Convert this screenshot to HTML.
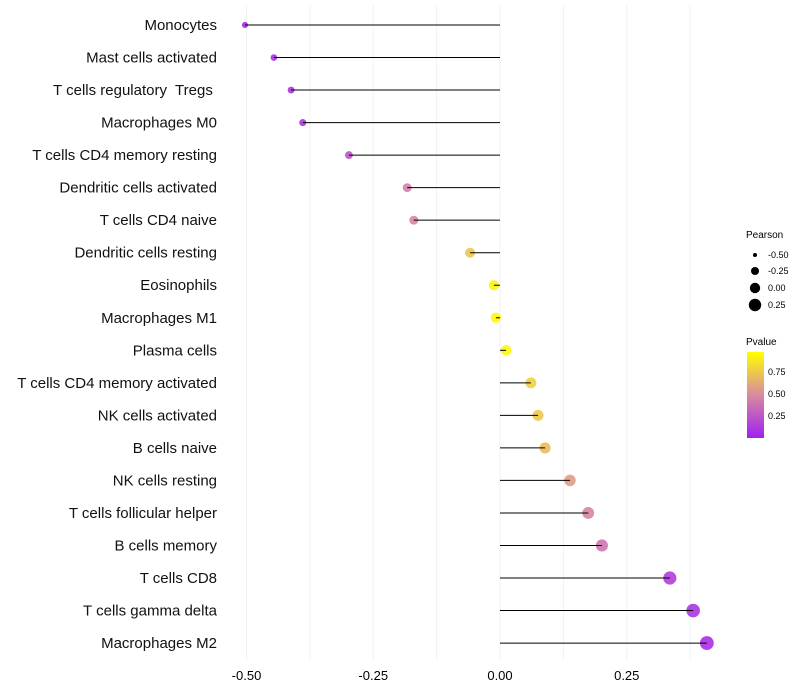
<!DOCTYPE html>
<html><head><meta charset="utf-8"><style>
body{margin:0;background:#fff;font-family:"Liberation Sans",sans-serif}
svg{display:block}
text{white-space:pre}
</style></head><body>
<svg id="chart" width="800" height="700">
<defs><linearGradient id="pg" x1="0" y1="1" x2="0" y2="0">
<stop offset="0" stop-color="#a020f0"/><stop offset="0.5" stop-color="#d98aa0"/><stop offset="1" stop-color="#ffff00"/>
</linearGradient></defs>
<g id="grid"></g><g id="dots"></g><g id="marks"></g><g id="labels"></g>
<g font-size="9">
<text x="746" y="238" font-size="10">Pearson</text>
<circle cx="755" cy="255" r="2" fill="#000"/><text x="768" y="258">-0.50</text>
<circle cx="755" cy="271" r="4" fill="#000"/><text x="768" y="274">-0.25</text>
<circle cx="755" cy="288" r="5.2" fill="#000"/><text x="768" y="291">0.00</text>
<circle cx="755" cy="305" r="6.2" fill="#000"/><text x="768" y="308">0.25</text>
</g>
<g font-size="9">
<text x="746" y="345" font-size="10">Pvalue</text>
<rect x="747" y="352" width="17" height="86" fill="url(#pg)"/>
<text x="768" y="375">0.75</text><text x="768" y="397">0.50</text><text x="768" y="419">0.25</text>
</g>
</svg>
<script>
const categories=["Monocytes","Mast cells activated","T cells regulatory  Tregs ","Macrophages M0","T cells CD4 memory resting","Dendritic cells activated","T cells CD4 naive","Dendritic cells resting","Eosinophils","Macrophages M1","Plasma cells","T cells CD4 memory activated","NK cells activated","B cells naive","NK cells resting","T cells follicular helper","B cells memory","T cells CD8","T cells gamma delta","Macrophages M2"];
const pearson=[-0.503,-0.446,-0.412,-0.389,-0.298,-0.183,-0.170,-0.059,-0.012,-0.008,0.012,0.061,0.075,0.089,0.138,0.174,0.201,0.335,0.381,0.408];
const pvalues=[0.04,0.08,0.1,0.11,0.25,0.45,0.47,0.75,0.95,0.97,0.97,0.8,0.77,0.72,0.58,0.47,0.4,0.14,0.1,0.07];
const xTicks=[-0.5,-0.25,0,0.25];
const xTickLabels=["-0.50","-0.25","0.00","0.25"];
const NS="http://www.w3.org/2000/svg";
const xs=v=>500+v*507;
const ys=i=>25+i*32.53;
const rs=v=>5.2+4.2*v;
function lerp(a,b,t){return a.map((x,i)=>Math.round(x+(b[i]-x)*t));}
function col(p){const P=[160,32,240],M=[217,138,160],Y=[255,255,0];const c=p<0.5?lerp(P,M,p/0.5):lerp(M,Y,(p-0.5)/0.5);return `rgb(${c})`;}
function mk(tag,attrs,parent){const e=document.createElementNS(NS,tag);for(const k in attrs)e.setAttribute(k,attrs[k]);parent.appendChild(e);return e;}
const grid=document.getElementById('grid'),marks=document.getElementById('marks'),dots=document.getElementById('dots'),labels=document.getElementById('labels');
for(let v=-0.5;v<=0.38;v+=0.125){const l=mk('line',{x1:xs(v),x2:xs(v),y1:5,y2:660,stroke:'#f2f2f2','stroke-width':1},grid);

}
xTicks.forEach((v,i)=>{const t=mk('text',{x:xs(v),y:680,'text-anchor':'middle','font-size':13,fill:'#000'},labels);t.textContent=xTickLabels[i];

});
categories.forEach((c,i)=>{
const t=mk('text',{x:217,y:ys(i)+5,'text-anchor':'end','font-size':15,fill:'#111'},labels);t.textContent=c;


const l=mk('line',{x1:xs(0),x2:xs(pearson[i]),y1:ys(i),y2:ys(i),stroke:'#000','stroke-width':1},marks);


const d=mk('circle',{cx:xs(pearson[i]),cy:ys(i),r:rs(pearson[i]),fill:col(pvalues[i]),'fill-opacity':0.9},dots);


});
</script>
</body></html>
